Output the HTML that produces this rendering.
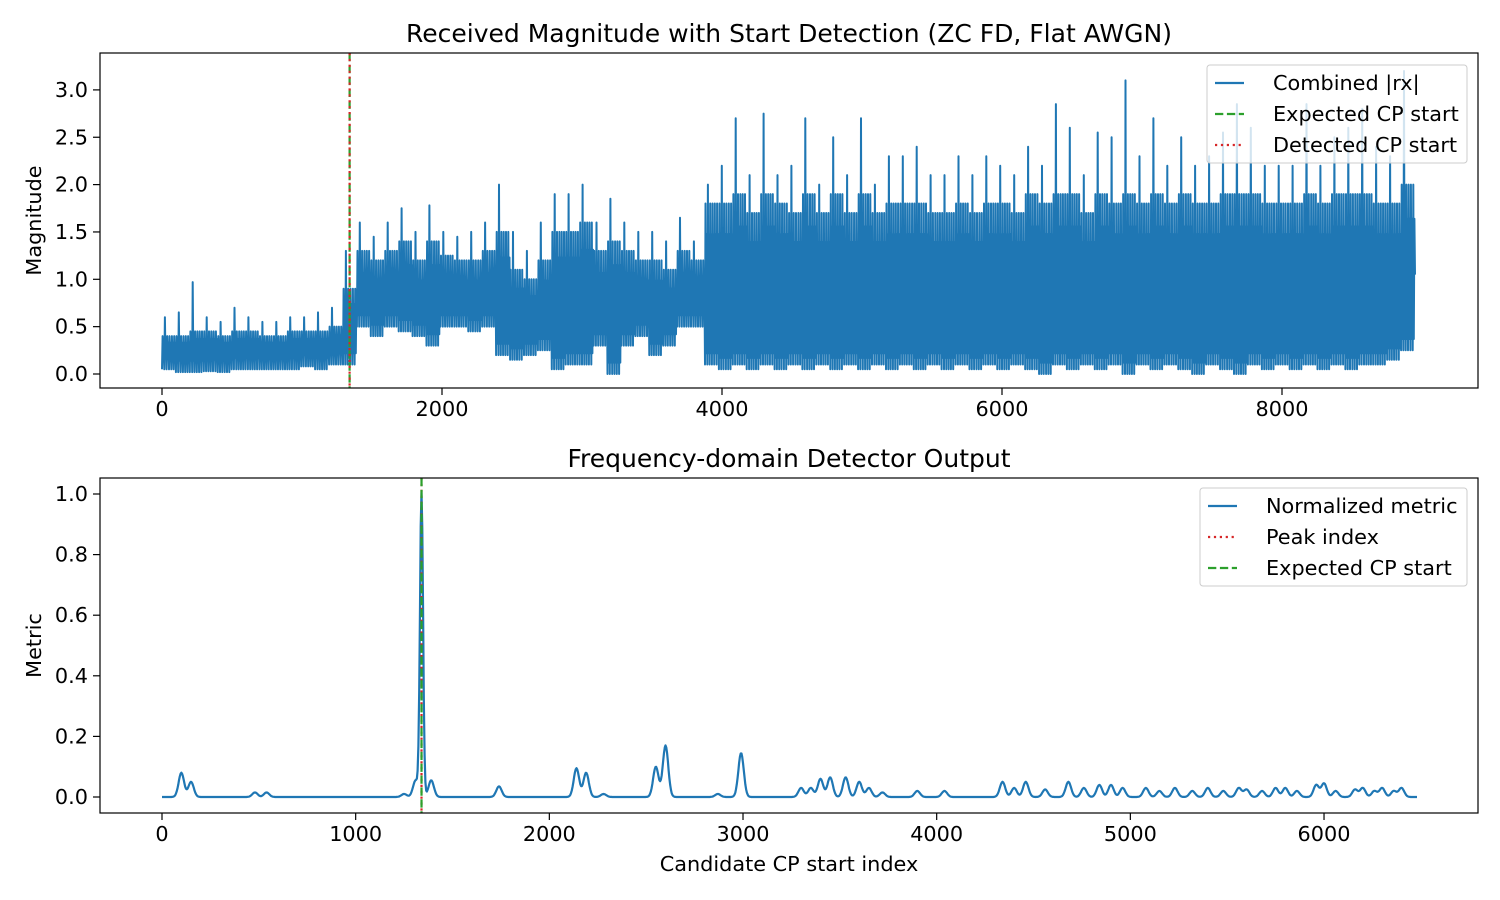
<!DOCTYPE html>
<html><head><meta charset="utf-8"><style>
body{margin:0;background:#fff}
svg{display:block;font-family:"DejaVu Sans","Liberation Sans",sans-serif}
</style></head><body>
<svg id="fig" width="1500" height="900" xmlns="http://www.w3.org/2000/svg">
<rect width="1500" height="900" fill="#fff"/>
<g id="topchart"></g>
<g id="botchart"></g>
</svg>
<script>
// ---- Top chart data (per-bucket envelopes) ----
const magLength = 8950;
const magMax = [0.6,0.65,0.97,0.6,0.55,0.7,0.6,0.55,0.55,0.6,0.6,0.65,0.7,1.3,
 1.6,1.45,1.6,1.75,1.5,1.78,1.5,1.45,1.5,1.6,2.0,1.5,1.3,1.6,1.9,1.9,2.0,1.6,1.85,1.6,1.5,1.5,1.4,1.65,1.4,
 2.0,2.2,2.7,2.1,2.75,2.1,2.2,2.7,2.0,2.5,2.1,2.7,2.0,2.3,2.3,2.4,2.1,2.1,2.3,2.1,2.3,2.2,2.1,2.4,2.2,2.85,2.6,2.1,2.55,2.5,3.1,2.3,2.7,2.2,2.5,2.2,2.3,2.55,2.85,2.6,2.2,2.2,2.2,2.85,2.2,2.5,2.6,2.8,2.4,2.3,3.2];
const magMin = [0.05,0.02,0.02,0.03,0.02,0.05,0.05,0.05,0.05,0.05,0.08,0.05,0.1,0.1,
 0.5,0.4,0.5,0.45,0.4,0.3,0.5,0.5,0.45,0.5,0.2,0.15,0.2,0.25,0.05,0.1,0.1,0.3,0.0,0.3,0.4,0.2,0.3,0.5,0.5,
 0.1,0.05,0.1,0.05,0.1,0.05,0.1,0.05,0.1,0.05,0.1,0.05,0.1,0.05,0.1,0.05,0.1,0.05,0.1,0.05,0.1,0.05,0.1,0.05,0.0,0.1,0.05,0.1,0.05,0.1,0.0,0.1,0.05,0.1,0.05,0.0,0.1,0.05,0.0,0.1,0.05,0.1,0.05,0.1,0.05,0.1,0.05,0.1,0.1,0.15,0.25];
const magBody = [0.4,0.4,0.45,0.45,0.4,0.45,0.45,0.4,0.4,0.45,0.45,0.45,0.5,0.9,
 1.3,1.2,1.3,1.4,1.2,1.4,1.25,1.2,1.2,1.3,1.5,1.1,1.0,1.2,1.5,1.5,1.6,1.3,1.4,1.3,1.2,1.2,1.1,1.3,1.2,
 1.8,1.8,1.9,1.7,1.9,1.8,1.7,1.9,1.7,1.9,1.7,1.9,1.7,1.8,1.8,1.8,1.7,1.7,1.8,1.7,1.8,1.8,1.7,1.9,1.8,1.9,1.9,1.7,1.9,1.8,1.9,1.8,1.9,1.8,1.9,1.8,1.8,1.9,1.9,1.9,1.8,1.8,1.8,1.9,1.8,1.9,1.9,1.9,1.8,1.8,2.0];
const topXTicks = [0,2000,4000,6000,8000];
const topYTicks = [0.0,0.5,1.0,1.5,2.0,2.5,3.0];
const expectedStart = 1340, detectedStart = 1340;

// ---- Bottom chart data ----
const peakIdx = [100,150,480,540,1250,1310,1340,1390,1740,2140,2190,2280,2550,2600,2870,2990,3300,3350,3400,3450,3530,3600,3650,3720,3900,4040,4340,4400,4460,4560,4680,4760,4840,4900,4960,5080,5150,5230,5320,5400,5480,5560,5600,5680,5750,5800,5860,5960,6000,6060,6160,6200,6260,6300,6360,6400];
const peakVal = [0.08,0.05,0.015,0.015,0.01,0.055,1.0,0.055,0.035,0.095,0.08,0.01,0.1,0.17,0.01,0.145,0.03,0.03,0.06,0.065,0.065,0.05,0.03,0.015,0.02,0.02,0.05,0.03,0.05,0.025,0.05,0.03,0.04,0.04,0.03,0.03,0.02,0.03,0.02,0.03,0.02,0.03,0.025,0.02,0.03,0.03,0.02,0.04,0.045,0.02,0.025,0.03,0.02,0.03,0.02,0.03];
const metricLen = 6480;
const botXTicks = [0,1000,2000,3000,4000,5000,6000];
const botYTicks = [0.0,0.2,0.4,0.6,0.8,1.0];

const NS="http://www.w3.org/2000/svg";
const BLUE="#1f77b4", GREEN="#2ca02c", RED="#d62728";
const FS=20.8, TFS=25;
function mk(parent,tag,attrs,text){const e=document.createElementNS(NS,tag);for(const k in attrs)e.setAttribute(k,attrs[k]);if(text!==undefined)e.textContent=text;parent.appendChild(e);return e;}

// ---- Top axes ----
const TB={l:100,r:1478,t:53,b:388};
const tx=v=>162+v*0.14, ty=v=>374-v*94.7;
const topG=document.getElementById('topchart');
let pts=[];
const bs=magLength/magMax.length, N=24;
for(let i=0;i<magMax.length;i++){
  const x0=i*bs, s=bs/N;
  for(let k=0;k<N;k++){
    let v;
    if(k===5) v=magMax[i];
    else if(k%2===0) v=(k%4===0)?magMin[i]:magMin[i]+0.12;
    else v=(k%4===1)?magBody[i]:magBody[i]*0.82;
    pts.push(tx(x0+k*s).toFixed(1)+','+ty(v).toFixed(1));
  }
}
pts.push(tx(magLength).toFixed(1)+','+ty(1.05).toFixed(1));
const sig=mk(topG,'polyline',{points:pts.join(' '),fill:'none',stroke:BLUE,'stroke-width':2,'stroke-linejoin':'round'});


const l1=mk(topG,'line',{x1:tx(expectedStart),x2:tx(expectedStart),y1:TB.t,y2:TB.b,stroke:GREEN,'stroke-width':2.2,'stroke-dasharray':'8.3,3.6'});


const l2=mk(topG,'line',{x1:tx(detectedStart),x2:tx(detectedStart),y1:TB.t,y2:TB.b,stroke:RED,'stroke-width':2.2,'stroke-dasharray':'2.2,3.7'});



function axes(g,B,xt,yt,xticks,yticks,yfmt,title,ylab,xlab){
  const fr=mk(g,'rect',{x:B.l,y:B.t,width:B.r-B.l,height:B.b-B.t,fill:'none',stroke:'#000','stroke-width':1.2});
  
  
  xticks.forEach(v=>{const x=xt(v);mk(g,'line',{x1:x,x2:x,y1:B.b,y2:B.b+7,stroke:'#000','stroke-width':1.2});
    const t=mk(g,'text',{x:x,y:B.b+28,'text-anchor':'middle','font-size':FS},String(v));
    
    });
  yticks.forEach(v=>{const y=yt(v);mk(g,'line',{x1:B.l-7,x2:B.l,y1:y,y2:y,stroke:'#000','stroke-width':1.2});
    const t=mk(g,'text',{x:B.l-12,y:y+7,'text-anchor':'end','font-size':FS},v.toFixed(yfmt));
    
    });
  const tt=mk(g,'text',{x:(B.l+B.r)/2,y:B.t-11,'text-anchor':'middle','font-size':TFS},title);
  
  
  const yl=mk(g,'text',{x:0,y:0,'text-anchor':'middle','font-size':FS,transform:`translate(41,${(B.t+B.b)/2}) rotate(-90)`},ylab);
  
  
  if(xlab){const xl=mk(g,'text',{x:(B.l+B.r)/2,y:B.b+58,'text-anchor':'middle','font-size':FS},xlab);
    
    }
}
function legend(g,x,y,w,entries){
  const lg=mk(g,'g',{});
  
  
  mk(lg,'rect',{x:x,y:y,width:w,height:98,rx:3,fill:'#fff','fill-opacity':0.8,stroke:'#ccc'});
  entries.forEach((e,i)=>{const yy=y+18+i*31;
    const en=mk(lg,'g',{});
    
    
    mk(en,'line',{x1:x+8,x2:x+37,y1:yy,y2:yy,stroke:e[1],'stroke-width':2.2,'stroke-dasharray':e[2]});
    mk(en,'text',{x:x+66,y:yy+7,'font-size':FS},e[0]);});
}
axes(topG,TB,tx,ty,topXTicks,topYTicks,1,'Received Magnitude with Start Detection (ZC FD, Flat AWGN)','Magnitude');
legend(topG,1207,65,260,[['Combined |rx|',BLUE,'none'],['Expected CP start',GREEN,'8.3,3.6'],['Detected CP start',RED,'2.2,3.7']]);

// ---- Bottom axes ----
const BB={l:100,r:1478,t:478,b:813};
const bx=v=>162+v*0.19367, by=v=>797-v*303;
const botG=document.getElementById('botchart');
let mp=[];
for(let n=0;n<=metricLen;n+=4){
  let v=0;
  for(let k=0;k<peakIdx.length;k++){const s=peakVal[k]>0.5?8:14;const d=(n-peakIdx[k])/s;v+=peakVal[k]*Math.exp(-0.5*d*d);}
  mp.push(bx(n).toFixed(1)+','+by(v).toFixed(1));
}
const met=mk(botG,'polyline',{points:mp.join(' '),fill:'none',stroke:BLUE,'stroke-width':2.2,'stroke-linejoin':'round'});


const l3=mk(botG,'line',{x1:bx(detectedStart),x2:bx(detectedStart),y1:BB.t,y2:BB.b,stroke:RED,'stroke-width':2.2,'stroke-dasharray':'2.2,3.7'});


const l4=mk(botG,'line',{x1:bx(expectedStart),x2:bx(expectedStart),y1:BB.t,y2:BB.b,stroke:GREEN,'stroke-width':2.2,'stroke-dasharray':'8.3,3.6'});


axes(botG,BB,bx,by,botXTicks,botYTicks,1,'Frequency-domain Detector Output','Metric','Candidate CP start index');
legend(botG,1200,488,267,[['Normalized metric',BLUE,'none'],['Peak index',RED,'2.2,3.7'],['Expected CP start',GREEN,'8.3,3.6']]);
</script>
</body></html>
